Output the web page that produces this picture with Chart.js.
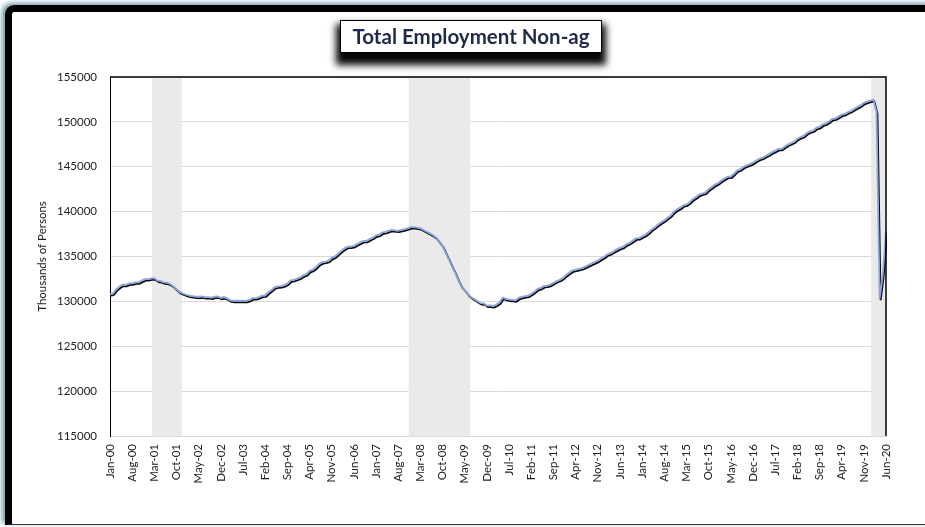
<!DOCTYPE html>
<html lang="en">
<head>
    <meta charset="UTF-8">
    <title>Total Employment Non-ag</title>
    <style>
body {
    margin: 0;
    padding: 0;
    background-color: #fff;
    width: 925px;
    height: 527px;
    overflow: hidden;
    position: relative;
    font-family: Lato, "Open Sans", sans-serif;
}

/* Outer card with thick dark border */
.frame {
    position: absolute;
    left: 5px;
    top: 5px;
    width: 940px;
    height: 512px;
    border-left: 7px solid #000;
    border-top: 7px solid #000;
    border-bottom: 1.5px solid #333;
    border-top-left-radius: 9px;
    box-shadow: -3px -2px 5px rgba(70, 120, 140, 0.75);
}

#chartWrap {
    position: absolute;
    left: 0;
    top: 0;
    width: 925px;
    height: 527px;
}

.title-box {
    position: absolute;
    left: 340px;
    top: 20px;
    width: 260px;
    height: 31px;
    background: #fff;
    border: 1px solid #000;
    box-shadow: 0 8px 7px 4px rgba(0, 0, 0, 0.97);
    text-align: center;
    line-height: 30px;
    font-weight: bold;
    font-size: 20.5px;
    color: #1f2a48;
}
    </style>
    <script src="https://cdn.jsdelivr.net/npm/chart.js"></script>
</head>
<body>
    <div class="frame"></div>
    <div id="chartWrap">
        <canvas id="empChart" width="925" height="527"></canvas>
    </div>
    <div class="title-box">Total Employment Non-ag</div>

    <script>
// Monthly total nonfarm employment, thousands of persons, Jan-2000 .. Jun-2020
const monthNames = ['Jan', 'Feb', 'Mar', 'Apr', 'May', 'Jun', 'Jul', 'Aug', 'Sep', 'Oct', 'Nov', 'Dec'];
const startYear = 2000;

const employment = [
    130781, 130898, 131370, 131661, 131880, 131839, 132002, 131999, 132127, 132123, 132313, 132469, // 2000
    132489, 132566, 132592, 132304, 132264, 132127, 132094, 131935, 131684, 131350, 131058, 130877, // 2001
    130743, 130642, 130593, 130521, 130516, 130561, 130463, 130478, 130411, 130537, 130550, 130394, // 2002
    130480, 130329, 130116, 130072, 130076, 130059, 130082, 130052, 130158, 130356, 130368, 130477, // 2003
    130636, 130680, 131015, 131276, 131594, 131660, 131703, 131815, 131984, 132334, 132397, 132526, // 2004
    132666, 132907, 133038, 133398, 133542, 133804, 134176, 134372, 134438, 134522, 134853, 135011, // 2005
    135315, 135626, 135910, 136096, 136105, 136184, 136391, 136572, 136733, 136742, 136948, 137119, // 2006
    137359, 137444, 137677, 137736, 137882, 137958, 137919, 137891, 137975, 138058, 138169, 138265, // 2007
    138276, 138206, 138154, 137944, 137760, 137579, 137377, 137102, 136637, 136163, 135402, 134690, // 2008
    133907, 133171, 132350, 131646, 131269, 130797, 130471, 130260, 130011, 129794, 129788, 129521, // 2009
    129541, 129487, 129646, 129899, 130422, 130290, 130210, 130178, 130122, 130384, 130505, 130592, // 2010
    130633, 130850, 131089, 131398, 131493, 131719, 131766, 131871, 132075, 132276, 132406, 132617, // 2011
    132946, 133215, 133450, 133535, 133634, 133715, 133864, 134034, 134212, 134375, 134539, 134783, // 2012
    134976, 135256, 135372, 135581, 135791, 135963, 136090, 136349, 136523, 136751, 137014, 137057, // 2013
    137238, 137420, 137698, 138022, 138271, 138579, 138811, 139024, 139329, 139578, 139988, 140250, // 2014
    140442, 140711, 140795, 141057, 141400, 141624, 141894, 142020, 142139, 142498, 142739, 143013, // 2015
    143181, 143465, 143689, 143896, 143909, 144227, 144587, 144725, 145008, 145145, 145300, 145460, // 2016
    145696, 145896, 146007, 146220, 146389, 146626, 146797, 146995, 146985, 147247, 147472, 147647, // 2017
    147808, 148127, 148307, 148452, 148752, 148946, 149055, 149337, 149449, 149716, 149838, 150047, // 2018
    150339, 150395, 150585, 150800, 150883, 151096, 151244, 151464, 151673, 151857, 152118, 152245, // 2019
    152360, 152460, 151090, 130303, 133028, 137802                                                  // 2020
];

// Recession periods (first and last shaded month)
const recessionStart = ['Mar-01', 'Dec-07', 'Feb-20'];
const recessionEnd = ['Nov-01', 'Jun-09', 'Jun-20'];

// Y axis range
const yMin = 115000;
const yMax = 155000;
const yStep = 5000;
const tickEvery = 7;

// Build month labels like "Jan-00"
const labels = employment.map((v, i) => {
    const yr = startYear + Math.floor(i / 12);
    return monthNames[i % 12] + '-' + String(yr % 100).padStart(2, '0');
});

// Shading bars: full-height floating bars inside recession months
const shading = labels.map((lab, i) => {
    for (let r = 0; r < recessionStart.length; r++) {
        const a = labels.indexOf(recessionStart[r]);
        const b = labels.indexOf(recessionEnd[r]);
        if (i >= a && i <= b) return [yMin, yMax];
    }
    return null;
});

// Black drop shadow under the blue line
const lineShadow = {
    id: 'lineShadow',
    beforeDatasetDraw(chart, args) {
        if (args.index !== 1) return;
        const ctx = chart.ctx;
        ctx.save();
        ctx.shadowColor = 'rgba(0,0,0,0.95)';
        ctx.shadowOffsetX = 1;
        ctx.shadowOffsetY = 1.5;
        ctx.shadowBlur = 0.5;
    },
    afterDatasetDraw(chart, args) {
        if (args.index !== 1) return;
        chart.ctx.restore();
    }
};

// Black top and right border of the plot area
const plotBorder = {
    id: 'plotBorder',
    afterDraw(chart) {
        const { ctx, chartArea: a } = chart;
        ctx.save();
        ctx.strokeStyle = '#000';
        ctx.lineWidth = 1.5;
        ctx.beginPath();
        ctx.moveTo(a.left, a.top);
        ctx.lineTo(a.right, a.top);
        ctx.lineTo(a.right, a.bottom);
        ctx.stroke();
        ctx.restore();
    }
};

const ctx = document.getElementById('empChart').getContext('2d');
new Chart(ctx, {
    data: {
        labels: labels,
        datasets: [
            {
                type: 'bar',
                label: 'Recession',
                data: shading,
                backgroundColor: '#eaeaea',
                borderWidth: 0,
                barPercentage: 1.08,
                categoryPercentage: 1,
                inflateAmount: 0.5,
                order: 2
            },
            {
                type: 'line',
                label: 'Total Employment Non-ag',
                data: employment,
                borderColor: '#8ea4e0',
                borderWidth: 1.8,
                pointRadius: 0,
                tension: 0,
                fill: false,
                order: 1
            }
        ]
    },
    options: {
        responsive: false,
        animation: false,
        events: [],
        layout: { padding: { left: 30, right: 39, top: 77, bottom: 31 } },
        plugins: {
            legend: { display: false },
            tooltip: { enabled: false }
        },
        scales: {
            x: {
                offset: false,
                grid: { display: false, drawTicks: false },
                border: { color: '#d9d9d9', width: 1 },
                ticks: {
                    autoSkip: false,
                    minRotation: 90,
                    maxRotation: 90,
                    padding: 8,
                    color: '#222',
                    font: { family: 'Lato', size: 11.5 },
                    callback: function (val, i) {
                        return i % tickEvery === 0 ? this.getLabelForValue(val) : '';
                    }
                },
                afterFit: scale => { scale.height = 60; }
            },
            y: {
                min: yMin,
                max: yMax,
                grid: { color: '#d9d9d9', drawTicks: false },
                border: { color: '#000', width: 1 },
                ticks: {
                    stepSize: yStep,
                    padding: 13,
                    color: '#222',
                    font: { family: 'Lato', size: 11.5 },
                    callback: v => String(v)
                },
                title: {
                    display: true,
                    text: 'Thousands of Persons',
                    color: '#222',
                    font: { family: 'Lato', size: 11.5 },
                    padding: { top: 5, bottom: 0 }
                },
                afterFit: scale => { scale.width = 80; }
            }
        }
    },
    plugins: [lineShadow, plotBorder]
});
    </script>
</body>
</html>
